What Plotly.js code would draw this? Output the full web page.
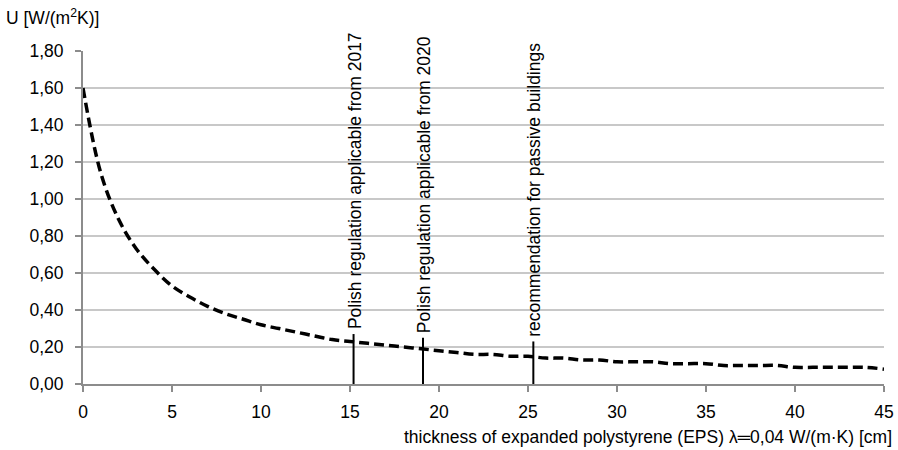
<!DOCTYPE html>
<html>
<head>
<meta charset="utf-8">
<script src="https://cdn.plot.ly/plotly-3.0.1.min.js"></script>
<style>html,body{margin:0;padding:0;background:#fff;}#chart{width:898px;height:450px;}</style>
</head>
<body>
<div id="chart"></div>
<script>
// thickness of EPS [cm]
const thickness = [0,1,2,3,4,5,6,7,8,9,10,11,12,13,14,15,16,17,18,19,20,21,22,23,24,25,26,27,28,29,30,31,32,33,34,35,36,37,38,39,40,41,42,43,44,45];
// U value [W/(m2K)]
const uValue = [1.60,1.14,0.89,0.73,0.62,0.53,0.47,0.42,0.38,0.35,0.32,0.30,0.28,0.26,0.24,0.23,0.22,0.21,0.20,0.19,0.18,0.17,0.16,0.16,0.15,0.15,0.14,0.14,0.13,0.13,0.12,0.12,0.12,0.11,0.11,0.11,0.10,0.10,0.10,0.10,0.09,0.09,0.09,0.09,0.09,0.08];
// reference markers
const markerLabels = ["Polish regulation applicable from 2017","Polish regulation applicable from 2020","recommendation for passive buildings"];
const markerX = [15.2, 19.1, 25.3];
const markerTop = [0.27, 0.25, 0.23];
const xTicks = [0,5,10,15,20,25,30,35,40,45];
const yTicks = [0,0.2,0.4,0.6,0.8,1.0,1.2,1.4,1.6,1.8];
const xTitle = 'thickness of expanded polystyrene (EPS) λ═0,04 W/(m·K) [cm]';
const yTitle = 'U [W/(m<sup>2</sup>K)]';

const FONT = "Liberation Sans, Arial, sans-serif";
const FS = 17.5;

const traces = [{
  x: thickness, y: uValue, type: 'scatter', mode: 'lines',
  line: {color: '#000', width: 3.5, dash: '10px,5px', shape: 'spline', smoothing: 1},
  hoverinfo: 'skip', showlegend: false
}];
markerX.forEach((mx, i) => {
  traces.push({x: [mx, mx], y: [0, markerTop[i]], type: 'scatter', mode: 'lines',
    line: {color: '#000', width: 2}, hoverinfo: 'skip', showlegend: false});
});

const annotations = markerLabels.map((t, i) => ({
  x: markerX[i], y: markerTop[i], xref: 'x', yref: 'y', text: t, showarrow: false,
  textangle: -90, xanchor: 'center', yanchor: 'bottom', yshift: 3, xshift: 1,
  font: {family: FONT, size: FS, color: '#000'}
}));
annotations.push({
  x: 0, y: 1, xref: 'paper', yref: 'paper', text: yTitle, showarrow: false,
  xanchor: 'left', yanchor: 'bottom', xshift: -79, yshift: 21,
  font: {family: FONT, size: FS, color: '#000'}
});
annotations.push({
  x: 1, y: 0, xref: 'paper', yref: 'paper', text: xTitle, showarrow: false,
  xanchor: 'right', yanchor: 'middle', xshift: 10, yshift: -53,
  font: {family: FONT, size: FS, color: '#000'}
});

const layout = {
  width: 898, height: 450,
  margin: {l: 83, r: 14, t: 51, b: 66},
  paper_bgcolor: '#fff', plot_bgcolor: '#fff',
  separators: ', ',
  font: {family: FONT, size: FS, color: '#000'},
  showlegend: false,
  xaxis: {
    range: [0, 45], tickvals: xTicks, ticktext: xTicks.map(String),
    showgrid: false, zeroline: false, showline: true, linecolor: '#8c8c8c', linewidth: 2,
    ticks: 'outside', ticklen: 6, tickcolor: '#8c8c8c', tickwidth: 1.5,
    ticklabelstandoff: 5,
    tickfont: {family: FONT, size: FS, color: '#000'},
    automargin: false, fixedrange: true
  },
  yaxis: {
    range: [0, 1.8], tickvals: yTicks, tickformat: '.2f',
    showgrid: true, gridcolor: '#c8c8c8', gridwidth: 1.5, zeroline: false,
    showline: true, linecolor: '#8c8c8c', linewidth: 2,
    ticks: 'outside', ticklen: 6, tickcolor: '#8c8c8c', tickwidth: 1.5,
    ticklabelstandoff: 8,
    tickfont: {family: FONT, size: FS, color: '#000'},
    automargin: false, fixedrange: true
  },
  annotations: annotations
};

Plotly.newPlot('chart', traces, layout, {staticPlot: true, displayModeBar: false});
</script>
</body>
</html>
